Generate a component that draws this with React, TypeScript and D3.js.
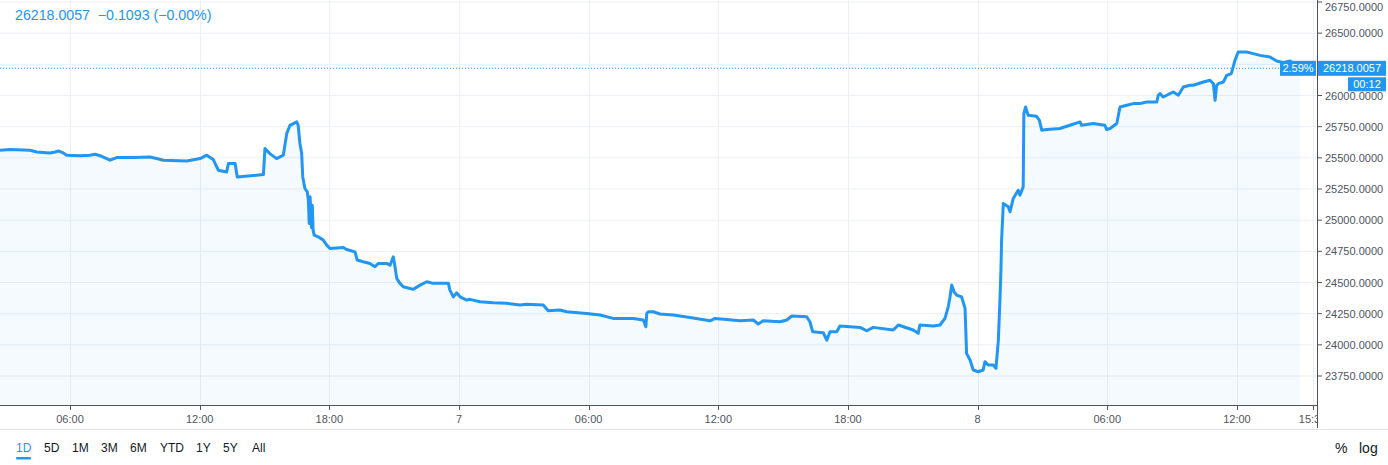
import React, { useEffect, useRef } from 'react';
import * as d3 from 'd3';

// hours since 00:00 on day 6
const hours = [
  2.76, 3.22, 4.15, 4.46, 5.07, 5.31, 5.46, 5.69, 5.85, 6.46, 6.93, 7.16, 7.39, 7.85, 8.16, 8.93,
  9.70, 10.01, 10.32, 11.40, 12.02, 12.33, 12.63, 12.86, 13.25, 13.33, 13.64, 13.74, 14.95, 15.02,
  15.25, 15.56, 15.87, 16.03, 16.18, 16.49, 16.56, 16.64, 16.72, 16.77, 16.87, 16.98, 17.03, 17.07,
  17.11, 17.14, 17.18, 17.21, 17.25, 17.30, 17.49, 17.72, 17.88, 18.03, 18.65, 18.80, 19.19, 19.29,
  19.57, 19.88, 20.11, 20.27, 20.66, 20.81, 20.96, 21.04, 21.12, 21.27, 21.42, 21.89, 22.20, 22.51,
  22.81, 23.51, 23.58, 23.74, 23.89, 24.05, 24.36, 24.51, 24.97, 25.59, 26.21, 26.82, 27.13, 27.90,
  28.13, 28.67, 28.98, 29.91, 30.53, 31.14, 32.07, 32.53, 32.65, 32.69, 32.76, 32.99, 33.30, 33.92,
  34.69, 35.62, 35.85, 36.39, 37.00, 37.62, 37.85, 38.08, 38.86, 39.17, 39.40, 40.09, 40.24, 40.37,
  40.86, 41.02, 41.17, 41.48, 41.63, 42.56, 42.87, 43.17, 44.10, 44.33, 45.02, 45.25, 45.33, 45.95,
  46.26, 46.49, 46.64, 46.72, 46.80, 46.91, 47.03, 47.26, 47.42, 47.49, 47.65, 47.80, 48.03, 48.26,
  48.34, 48.49, 48.72, 48.85, 48.96, 49.04, 49.08, 49.11, 49.19, 49.42, 49.50, 49.65, 49.88, 49.96,
  50.11, 50.14, 50.22, 50.34, 50.73, 50.86, 50.97, 51.20, 51.81, 52.27, 52.74, 52.81, 53.35, 53.89,
  53.97, 54.13, 54.44, 54.59, 54.90, 55.21, 55.51, 55.82, 56.29, 56.36, 56.44, 56.59, 56.75, 56.90,
  57.06, 57.29, 57.52, 57.83, 57.98, 58.45, 58.75, 58.91, 58.99, 59.06, 59.14, 59.37, 59.53, 59.74,
  59.91, 60.06, 60.45, 60.76, 61.07, 61.53, 61.84, 62.15, 62.46, 62.92,
];

const prices = [
  25561, 25566, 25561, 25547, 25539, 25547, 25555, 25539, 25521, 25517, 25521, 25529, 25517, 25481, 25502, 25502,
  25507, 25494, 25481, 25475, 25494, 25521, 25486, 25401, 25387, 25454, 25454, 25347, 25366, 25575,
  25534, 25494, 25521, 25695, 25761, 25788, 25760, 25615, 25534, 25347, 25254, 25227, 25160, 24974,
  25187, 25080, 24940, 25120, 24920, 24880, 24866, 24840, 24800, 24773, 24781, 24765, 24746, 24680,
  24666, 24653, 24626, 24653, 24653, 24639, 24706, 24626, 24533, 24493, 24466, 24445, 24479, 24506,
  24493, 24493, 24439, 24385, 24417, 24385, 24359, 24365, 24345, 24337, 24333, 24319, 24325, 24319,
  24273, 24279, 24265, 24252, 24239, 24212, 24212, 24199, 24145, 24252, 24265, 24265, 24247, 24239,
  24220, 24193, 24212, 24204, 24193, 24199, 24167, 24193, 24185, 24199, 24231, 24225, 24185, 24105,
  24097, 24038, 24105, 24105, 24151, 24140, 24113, 24140, 24119, 24159, 24119, 24092, 24159, 24151,
  24159, 24212, 24305, 24380, 24479, 24425, 24399, 24385, 24292, 23932, 23878, 23798, 23784, 23798,
  23865, 23838, 23838, 23812, 24038, 24385, 24599, 24840, 25134, 25107, 25067, 25174, 25240, 25200,
  25267, 25855, 25908, 25841, 25833, 25801, 25721, 25727, 25735, 25761, 25788, 25761, 25775, 25761,
  25727, 25735, 25775, 25908, 25922, 25935, 25935, 25948, 25948, 26002, 26015, 25988, 26002, 26015,
  26028, 26002, 26068, 26082, 26082, 26108, 26122, 26095, 25962, 26080, 26095, 26108, 26162, 26176,
  26282, 26349, 26349, 26336, 26322, 26309, 26277, 26264, 26277, 26218,
];

const timeTicks = [6, 12, 18, 24, 30, 36, 42, 48, 54, 60, 63.5];
const priceTicks = d3.range(23750, 26751, 250);
const periods = ['1D', '5D', '1M', '3M', '6M', 'YTD', '1Y', '5Y', 'All'];
const periodX = [16, 44, 72, 101, 130, 160, 196, 223, 252];

const lastPrice = 26218.0057;
const change = '−0.1093 (−0.00%)';
const changePct = '2.59%';
const countdown = '00:12';

const W = 1388;
const H = 465;
const plotW = 1316;
const plotH = 405;
const blue = '#2196f3';
const font = '"Liberation Sans", Arial, sans-serif';

function tickLabel(h: number) {
  const day = Math.floor(h / 24);
  const rem = h - day * 24;
  if (rem === 0) return String(6 + day);
  const hh = Math.floor(rem);
  const mm = Math.round((rem - hh) * 60);
  return `${String(hh).padStart(2, '0')}:${String(mm).padStart(2, '0')}`;
}

export default function App() {
  const ref = useRef<SVGSVGElement>(null);

  useEffect(() => {
    const svg = d3.select(ref.current);
    svg.selectAll('*').remove();

    const x = d3.scaleLinear().domain([2.76, 63.66]).range([0, plotW]);
    const y = d3.scaleLinear().domain([23750, 26750]).range([376, 2]);
    const pts = hours.map((h, i) => [h, prices[i]] as [number, number]);
    const ly = y(lastPrice);

    svg.append('rect').attr('width', W).attr('height', H).attr('fill', '#fff');

    const clip = svg.append('defs').append('clipPath').attr('id', 'plot');
    clip.append('rect').attr('width', plotW + 1).attr('height', H);

    const grid = svg.append('g');
    grid.selectAll('line.h').data(priceTicks).enter().append('line')
      .attr('x1', 0).attr('x2', plotW).attr('y1', d => y(d)).attr('y2', d => y(d))
      .attr('stroke', '#eceff4').attr('stroke-width', 1);
    grid.selectAll('line.v').data(timeTicks).enter().append('line')
      .attr('x1', d => Math.round(x(d)) + 0.5).attr('x2', d => Math.round(x(d)) + 0.5)
      .attr('y1', 0).attr('y2', plotH)
      .attr('stroke', '#eceff4').attr('stroke-width', 1);

    const area = d3.area<[number, number]>().x(d => x(d[0])).y0(plotH).y1(d => y(d[1]));
    const line = d3.line<[number, number]>().x(d => x(d[0])).y(d => y(d[1]));

    svg.append('path').datum(pts).attr('d', area).attr('fill', blue).attr('fill-opacity', 0.05);
    svg.append('path').datum(pts).attr('d', line)
      .attr('fill', 'none').attr('stroke', blue).attr('stroke-width', 3)
      .attr('stroke-linejoin', 'round');

    // last price dotted line
    svg.append('line')
      .attr('x1', 0).attr('x2', plotW).attr('y1', ly).attr('y2', ly)
      .attr('stroke', blue).attr('stroke-width', 1).attr('stroke-dasharray', '1,2');

    // axes
    svg.append('line').attr('x1', 0).attr('x2', plotW + 1).attr('y1', plotH + 0.5).attr('y2', plotH + 0.5)
      .attr('stroke', '#50535e');
    svg.append('line').attr('x1', plotW + 1.5).attr('x2', plotW + 1.5).attr('y1', 0).attr('y2', 428)
      .attr('stroke', '#50535e');

    const xt = svg.append('g').attr('clip-path', 'url(#plot)');
    xt.selectAll('line').data(timeTicks).enter().append('line')
      .attr('x1', d => Math.round(x(d)) + 0.5).attr('x2', d => Math.round(x(d)) + 0.5)
      .attr('y1', plotH).attr('y2', plotH + 5).attr('stroke', '#50535e');
    xt.selectAll('text').data(timeTicks).enter().append('text')
      .attr('x', d => x(d)).attr('y', 423)
      .attr('text-anchor', 'middle').attr('font-family', font).attr('font-size', 11)
      .attr('fill', '#50535e').text(d => tickLabel(d));

    // price axis (labels hidden under the last-price box are skipped)
    const shown = priceTicks.filter(d => Math.abs(y(d) - ly) > 10);
    const yt = svg.append('g');
    yt.selectAll('line').data(priceTicks).enter().append('line')
      .attr('x1', plotW + 1).attr('x2', plotW + 6).attr('y1', d => y(d)).attr('y2', d => y(d))
      .attr('stroke', '#50535e');
    yt.selectAll('text').data(shown).enter().append('text')
      .attr('x', 1325).attr('y', d => Math.max(y(d) + 4, 11))
      .attr('font-family', font).attr('font-size', 11).attr('fill', '#50535e')
      .text(d => d.toFixed(4));

    // price labels
    svg.append('rect').attr('x', 1280).attr('y', ly - 7.5).attr('width', 36).attr('height', 15).attr('fill', blue);
    svg.append('text').attr('x', 1298).attr('y', ly + 4).attr('text-anchor', 'middle')
      .attr('font-family', font).attr('font-size', 11).attr('fill', '#fff').text(changePct);
    svg.append('rect').attr('x', 1318).attr('y', ly - 7.5).attr('width', 68).attr('height', 15).attr('fill', blue);
    svg.append('text').attr('x', 1352).attr('y', ly + 4).attr('text-anchor', 'middle')
      .attr('font-family', font).attr('font-size', 11).attr('fill', '#fff').text(lastPrice.toFixed(4));
    svg.append('rect').attr('x', 1348).attr('y', ly + 9).attr('width', 38).attr('height', 14).attr('fill', blue);
    svg.append('text').attr('x', 1367).attr('y', ly + 20).attr('text-anchor', 'middle')
      .attr('font-family', font).attr('font-size', 11).attr('fill', '#fff').text(countdown);

    // header
    svg.append('text').attr('x', 15).attr('y', 20)
      .attr('font-family', font).attr('font-size', 14.2).attr('fill', blue)
      .attr('xml:space', 'preserve')
      .text(`${lastPrice.toFixed(4)}  ${change}`);

    // bottom toolbar
    svg.append('line').attr('x1', 0).attr('x2', W).attr('y1', 429.5).attr('y2', 429.5).attr('stroke', '#e0e3eb');
    svg.selectAll('text.p').data(periods).enter().append('text')
      .attr('x', (d, i) => periodX[i]).attr('y', 452)
      .attr('font-family', font).attr('font-size', 12)
      .attr('fill', (d, i) => (i === 0 ? blue : '#131722')).text(d => d);
    svg.append('rect').attr('x', 16).attr('y', 457).attr('width', 15).attr('height', 2.5).attr('fill', blue).attr('rx', 1);
    svg.append('text').attr('x', 1335).attr('y', 453).attr('font-family', font).attr('font-size', 14)
      .attr('fill', '#131722').text('%');
    svg.append('text').attr('x', 1359).attr('y', 453).attr('font-family', font).attr('font-size', 14)
      .attr('fill', '#131722').text('log');
  }, []);

  return (
    <div style={{ position: 'fixed', left: 0, top: 0 }}>
      <svg ref={ref} width={W} height={H} style={{ display: 'block' }} />
    </div>
  );
}
